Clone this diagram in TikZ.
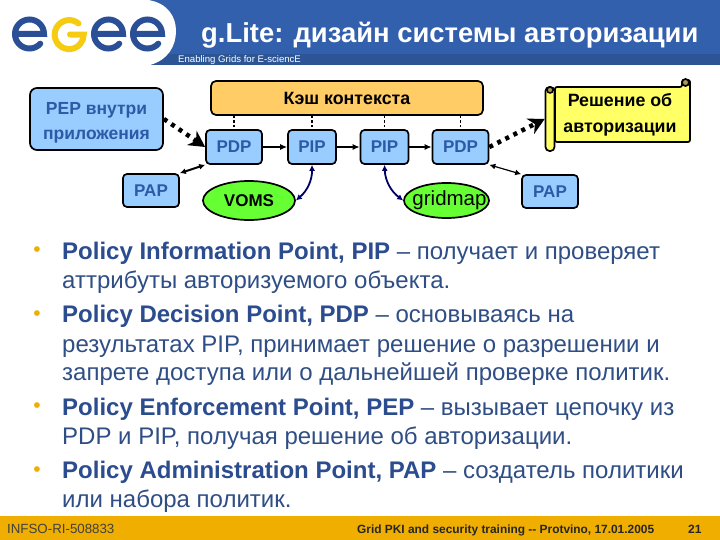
\documentclass[tikz,border=0pt]{standalone}
\usepackage{fontspec}
\setmainfont{Liberation Sans}
\usepackage{tikz}
\usetikzlibrary{arrows.meta, shapes.geometric}

\definecolor{bannerblue}{HTML}{3360AC}
\definecolor{bannerdark}{HTML}{2C5596}
\definecolor{logoblue}{HTML}{2B4F96}
\definecolor{logoyellow}{HTML}{F5CC12}
\definecolor{footerorange}{HTML}{EFAE00}
\definecolor{boxblue}{HTML}{99CCFF}
\definecolor{boxtext}{HTML}{2C5AA6}
\definecolor{bodybold}{HTML}{2B4C8E}
\definecolor{bodyplain}{HTML}{2F4E85}
\definecolor{cacheorange}{HTML}{FFCC66}
\definecolor{sourcegreen}{HTML}{66FF33}
\definecolor{scrollyellow}{HTML}{FFFF66}
\definecolor{scrolltan}{HTML}{A89A5A}

\tikzset{
    blockbox/.style={draw, line width=1.7pt, rounded corners=4pt, fill=boxblue, text=boxtext,
        font=\fontsize{17}{20}\selectfont\bfseries, inner sep=0pt, align=center},
    source/.style={draw, line width=1.7pt, ellipse, fill=sourcegreen, inner sep=0pt},
    dottedarrow/.style={line width=4.5pt, dash pattern=on 4pt off 5pt, -{Stealth[length=16pt, width=17pt, inset=5pt]}},
    flowline/.style={-{Latex[length=7pt, width=6pt]}},
    linkline/.style={{Latex[length=6pt, width=6pt]}-{Latex[length=6pt, width=6pt]}},
    fetchline/.style={line width=1.8pt, color=blue!40!black, linkline},
    cacheline/.style={line width=1.2pt, dash pattern=on 2.5pt off 2pt},
    bodyline/.style={anchor=base west, inner sep=0pt, text=bodyplain, font=\fontsize{24}{26}\selectfont},
    logoline/.style={line width=6pt, line cap=round, color=logoblue}
}
\newcommand{\logoe}[1]{\draw[logoline] (#1-13, 34) -- (#1+14.5, 34) arc[start angle=0, end angle=-318, x radius=14.5, y radius=14.5];}

\begin{document}
\begin{tikzpicture}[x=1pt, y=-1pt]
    \useasboundingbox (0, 0) rectangle (720, 540);
    \fill[white] (0, 0) rectangle (720, 540);

    % banner
    \fill[bannerblue] (150, 0) rectangle (720, 54);
    \fill[bannerdark] (150, 54) rectangle (720, 65);
    \fill[white] (148, 0) .. controls (168, 3) and (176, 17) .. (176, 31) .. controls (176, 46) and (168, 60) .. (150, 65) -- (148, 65) -- cycle;
    \logoe{29.5}
    \logoe{108.5}
    \logoe{147.5}
    \draw[logoline, color=logoyellow] (78.5, 23.5) arc[start angle=-50, end angle=-360, x radius=14.5, y radius=14.5] -- (70, 34.5);
    \node[anchor=base west, inner sep=0pt, text=white, font=\fontsize{27.4}{30}\selectfont\bfseries] (title) at (201, 43) {g.Lite: дизайн системы авторизации};
    \node[anchor=base west, inner sep=0pt, text=white, font=\fontsize{9.6}{11}\selectfont] (tagline) at (178, 63) {Enabling Grids for E-sciencE};

    % boxes
    \node[blockbox, minimum width=133pt, minimum height=62pt, rounded corners=7pt, font=\fontsize{17.5}{25}\selectfont\bfseries] (pep) at (96.5, 119) {\rule{0pt}{19pt}PEP внутри\\приложения};
    \node[blockbox, minimum width=56pt, minimum height=33pt] (papa) at (151, 190.5) {PAP};
    \node[blockbox, minimum width=272pt, minimum height=34pt, fill=cacheorange, text=black, rounded corners=5pt, font=\fontsize{17.8}{20}\selectfont\bfseries] (cache) at (347, 98) {Кэш контекста};
    \node[blockbox, minimum width=56pt, minimum height=34pt] (pdpa) at (234, 147) {PDP};
    \node[blockbox, minimum width=48pt, minimum height=34pt] (pipa) at (312, 147) {PIP};
    \node[blockbox, minimum width=48pt, minimum height=34pt] (pipb) at (384.5, 147) {PIP};
    \node[blockbox, minimum width=56pt, minimum height=34pt] (pdpb) at (460.5, 147) {PDP};
    \node[blockbox, minimum width=56pt, minimum height=33pt] (papb) at (550, 191.5) {PAP};
    \node[source, minimum width=92pt, minimum height=39pt, text=black, font=\fontsize{17}{20}\selectfont\bfseries] (voms) at (249, 200.5) {VOMS};
    \node[source, minimum width=85pt, minimum height=35pt, text=black, font=\fontsize{20.5}{22}\selectfont] (gridmap) at (446.5, 200.5) {\makebox[0pt]{\hspace*{6pt}gridmap}};

    % scroll
    \draw[line width=1.7pt, fill=scrollyellow, rounded corners=2pt] (555, 87) -- (682, 87) -- (682, 80) -- (690, 80) -- (690, 142) -- (555, 142) -- cycle;
    \draw[line width=1.7pt, fill=scrolltan] (685.5, 82.5) circle (3.5);
    \node[draw, line width=1.7pt, fill=scrollyellow, rounded corners=4pt, minimum width=9pt, minimum height=64pt, inner sep=0pt] (roll) at (550, 119) {};
    \draw[line width=1.5pt, fill=scrolltan] (550, 90) circle (3);
    \node[inner sep=0pt, align=center, font=\fontsize{17.8}{26}\selectfont\bfseries] (decision) at (620, 115) {Решение об\\авторизации};

    % connectors
    \draw[dottedarrow] (pep.east) -- (pdpa.west);
    \draw[dottedarrow] (pdpb.east) -- (roll.west);
    \draw[cacheline] (cache.south -| pdpa.north) -- (pdpa.north);
    \draw[cacheline] (cache.south -| pipa.north) -- (pipa.north);
    \draw[cacheline] (cache.south -| pipb.north) -- (pipb.north);
    \draw[cacheline] (cache.south -| pdpb.north) -- (pdpb.north);
    \draw[flowline, line width=1.2pt] (pdpa) -- (pipa);
    \draw[flowline, line width=2.2pt] (pipa) -- (pipb);
    \draw[flowline, line width=2.2pt] (pipb) -- (pdpb);
    \draw[linkline, line width=2pt] (papa.north east) -- (pdpa.south west);
    \draw[linkline, line width=1.2pt] (papb.north west) -- (pdpb.south east);
    \draw[fetchline] (pipa.south) to[bend left=25] (voms.east);
    \draw[fetchline] (pipb.south) to[bend right=25] (gridmap.west);

    % text
    \foreach \y/\n in {252/a, 316/b, 408/c, 472/d} {
        \node[text=footerorange, inner sep=0pt, font=\fontsize{21}{24}\selectfont] (bullet\n) at (37, \y) {•};
    }
    \node[bodyline] (lineone) at (62, 259) {\textcolor{bodybold}{\textbf{Policy Information Point, PIP}} – получает и проверяет};
    \node[bodyline] (linetwo) at (62, 288) {аттрибуты авторизуемого объекта.};
    \node[bodyline] (linethree) at (62, 322) {\textcolor{bodybold}{\textbf{Policy Decision Point, PDP}} – основываясь на};
    \node[bodyline] (linefour) at (62, 352) {результатах PIP, принимает решение о разрешении и};
    \node[bodyline] (linefive) at (62, 380) {запрете доступа или о дальнейшей проверке политик.};
    \node[bodyline] (linesix) at (62, 415) {\textcolor{bodybold}{\textbf{Policy Enforcement Point, PEP}} – вызывает цепочку из};
    \node[bodyline] (lineseven) at (62, 444) {PDP и PIP, получая решение об авторизации.};
    \node[bodyline] (lineeight) at (62, 478) {\textcolor{bodybold}{\textbf{Policy Administration Point, PAP}} – создатель политики};
    \node[bodyline] (linenine) at (62, 507) {или набора политик.};

    % footer
    \fill[footerorange] (0, 516) rectangle (720, 540);
    \node[anchor=base west, inner sep=0pt, text=black!75, font=\fontsize{13.3}{15}\selectfont] (project) at (7, 533) {INFSO-RI-508833};
    \node[anchor=base west, inner sep=0pt, text=black!85, font=\fontsize{11.9}{14}\selectfont\bfseries] (event) at (357, 533) {Grid PKI and security training -{}- Protvino, 17.01.2005};
    \node[anchor=base west, inner sep=0pt, text=black!85, font=\fontsize{12}{14}\selectfont\bfseries] (pagenum) at (688, 533) {21};
\end{tikzpicture}
\end{document}
